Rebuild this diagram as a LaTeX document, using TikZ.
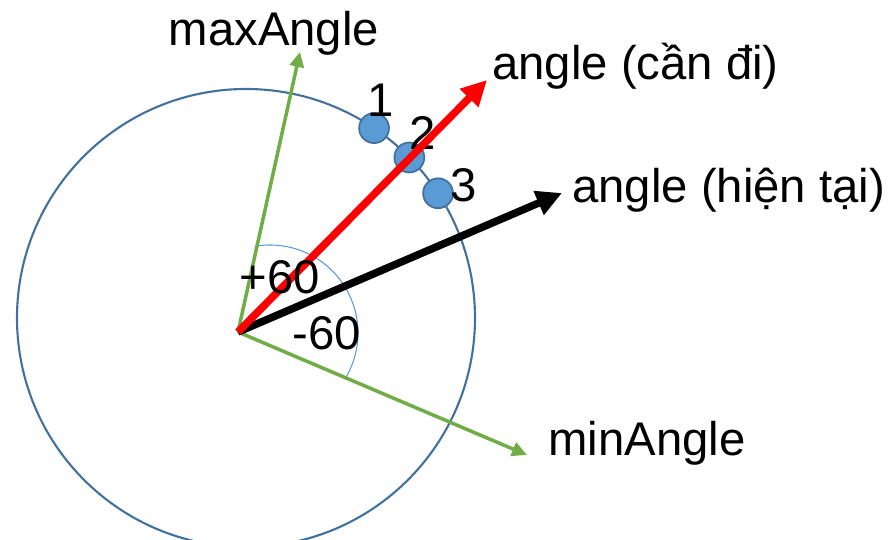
\documentclass[tikz,border=0pt]{standalone}
\usepackage{fontspec}
\setmainfont{Liberation Sans}
\usetikzlibrary{arrows.meta, calc}

\definecolor{limitgreen}{RGB}{112,173,71}
\definecolor{ringblue}{RGB}{65,113,156}
\definecolor{lightblue}{RGB}{91,155,213}

\begin{document}
\begin{tikzpicture}[
    x=0.02cm, y=0.02cm,
    font=\fontsize{26.9}{32}\selectfont,
    limit/.style={-{Triangle[length=8.5pt, width=8pt]}, limitgreen, line width=2pt},
    heading/.style={-{Triangle[length=14.5pt, width=14pt]}, line width=4.3pt},
    dot/.style={circle, fill=lightblue, draw=ringblue, line width=1pt, minimum size=17, inner sep=0pt},
    label/.style={inner sep=0pt}
]
\useasboundingbox (0,0) rectangle (890,540);

% Circle of positions
\coordinate (ring) at (246,222);
\draw[ringblue, line width=1.2pt] (ring) circle[radius=229];

% Points on the circle
\node[dot] (p1) at ($(ring)+(56:229)$) {};
\node[dot] (p2) at ($(ring)+(44.5:229)$) {};
\node[dot] (p3) at ($(ring)+(33:229)$) {};
\node[label] (n1) at (381,440) {1};
\node[label] (n2) at (423,407) {2};
\node[label] (n3) at (464,355) {3};

% Arrow ends
\coordinate (pivot) at (238,208);
\coordinate (maxtip) at (300,488);
\coordinate (mintip) at (527,85);
\coordinate (goaltip) at (487,460);
\coordinate (nowtip) at (562,347);

% Angle arcs
\coordinate (arcc) at (270,207);
\draw[lightblue, line width=0.6pt] (arcc) ++(100:88) arc[start angle=100, end angle=33, radius=88];
\draw[lightblue, line width=0.6pt] (arcc) ++(31:88) arc[start angle=31, end angle=-30, radius=88];

% Arrows
\draw[limit] (pivot) -- (maxtip);
\draw[limit] (pivot) -- (mintip);
\draw[heading, black] (pivot) -- (nowtip);
\draw[heading, red] (pivot) -- (goaltip);

% Labels
\node[label] (maxlabel) at (274,507) {maxAngle};
\node[label, anchor=west] (minlabel) at (548,97) {minAngle};
\node[label, anchor=west] (goallabel) at (492,474) {angle (cần đi)};
\node[label, anchor=west] (nowlabel) at (572,350) {angle (hiện tại)};
\node[label] (plus) at (280,263) {+60};
\node[label] (minus) at (327,207) {-60};

\end{tikzpicture}
\end{document}
